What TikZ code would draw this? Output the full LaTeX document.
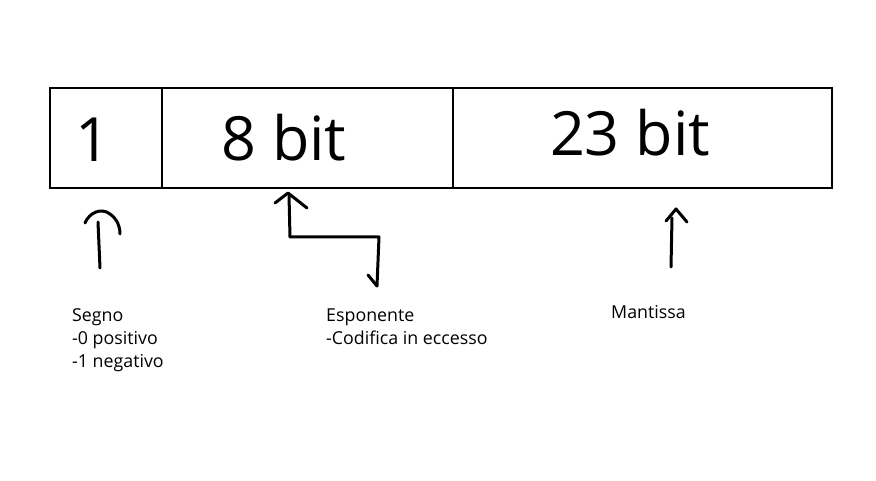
\documentclass[tikz,border=0pt]{standalone}
\usepackage{fontspec}
\setmainfont{Open Sans}
\begin{document}
\begin{tikzpicture}[x=1pt,y=-1pt,
  cell/.style={draw=black,line width=1.6pt,minimum height=100pt,inner sep=0pt,anchor=north west},
  big/.style={font=\fontsize{61}{61}\selectfont,anchor=base,inner sep=0pt},
  small/.style={font=\fontsize{17.8}{23}\selectfont,anchor=base west,inner sep=0pt,align=left},
  hand/.style={line width=3pt,line cap=round,line join=round}]
\useasboundingbox[fill=white] (0,0) rectangle (876,481);
% cells
\node[cell,minimum width=112pt] (c1) at (49,87) {};
\node[cell,minimum width=291pt] (c2) at (161,87) {};
\node[cell,minimum width=379pt] (c3) at (452,87) {};
% cell texts
\node[big] (t1) at (93,162) {1};
\node[big] (t2) at (284,161) {8 bit};
\node[big] (t3) at (630,156) {23 bit};
% labels
\node[small] (l1) at (72,321) {Segno};
\node[small] (l1b) at (72,344) {-0 positivo};
\node[small] (l1c) at (72,367) {-1 negativo};
\node[small] (l2) at (326,321) {Esponente};
\node[small] (l2b) at (326,344) {-Codifica in eccesso};
\node[small] (l3) at (611,319) {Mantissa};
% arrow 1 (sign)
\coordinate (a1s) at (100,268);
\coordinate (a1e) at (98,222);
\draw[hand] (a1s) -- (a1e);
\draw[hand] (85,223) .. controls (89,213) and (101,207) .. (110,214) .. controls (117,219) and (120,226) .. (120,234);
% arrow 2 (exponent)
\coordinate (a2s) at (377,286);
\coordinate (a2e) at (289,195);
\draw[hand] (a2e) -- (290,237) -- (379,237) -- (a2s);
\draw[hand] (275,203) -- (288,193) -- (307,208);
\draw[hand] (368,275) -- (a2s);
% arrow 3 (mantissa)
\coordinate (a3s) at (671,267);
\coordinate (a3e) at (672,218);
\draw[hand] (a3s) -- (a3e);
\draw[hand] (666,221) -- (676,209) -- (687,222);
\end{tikzpicture}
\end{document}
